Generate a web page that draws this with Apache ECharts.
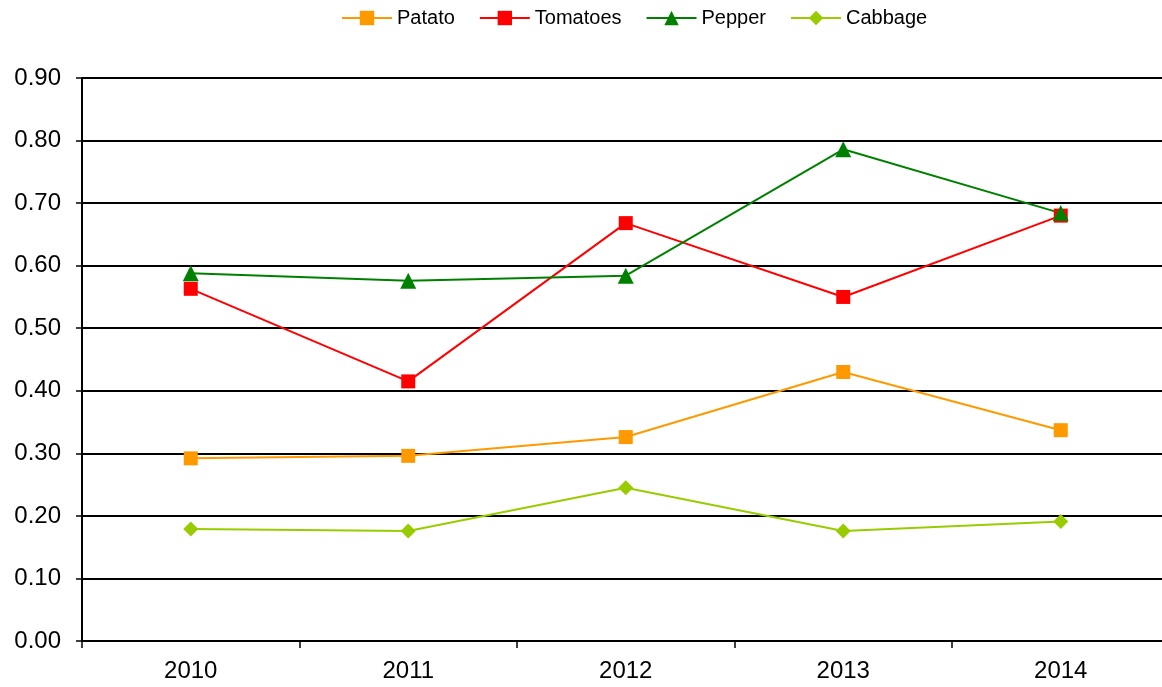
<!DOCTYPE html>
<html><head><meta charset="utf-8">
<script src="https://cdn.jsdelivr.net/npm/echarts@6/dist/echarts.min.js"></script>
<style>html,body{margin:0;padding:0;background:#fff}#c{width:1162px;height:687px}</style>
</head><body><div id="c"></div>
<script>
const categories = ['2010','2011','2012','2013','2014'];
const patato   = [0.292, 0.296, 0.326, 0.430, 0.337];
const tomatoes = [0.563, 0.415, 0.668, 0.550, 0.680];
const pepper   = [0.588, 0.576, 0.584, 0.786, 0.684];
const cabbage  = [0.179, 0.176, 0.245, 0.176, 0.191];
const yTicks = { min: 0, max: 0.9, interval: 0.1 };

const font = 'Liberation Sans, Arial, sans-serif';
const chart = echarts.init(document.getElementById('c'));
function s(name, data, color, symbol, size) {
  return { name, type: 'line', data, symbol, symbolSize: size, showSymbol: true,
    lineStyle: { color, width: 2 }, itemStyle: { color }, animation: false };
}
chart.setOption({
  animation: false,
  legend: { top: 3, left: 336, itemWidth: 50, itemHeight: 18, itemGap: 24,
    textStyle: { fontFamily: font, fontSize: 20, color: '#000' } },
  grid: { left: 82, width: 1087.5, top: 78, height: 563, containLabel: false, outerBoundsMode: 'none' },
  xAxis: { type: 'category', data: categories, boundaryGap: true,
    axisLine: { lineStyle: { color: '#000', width: 2 } },
    axisTick: { show: true, length: 7, lineStyle: { color: '#000', width: 1.5 } },
    axisLabel: { fontFamily: font, fontSize: 24, color: '#000', margin: 18 } },
  yAxis: { type: 'value', min: yTicks.min, max: yTicks.max, interval: yTicks.interval,
    axisLine: { show: true, lineStyle: { color: '#000', width: 2 } },
    axisTick: { show: true, length: 6, lineStyle: { color: '#000', width: 1.5 } },
    axisLabel: { fontFamily: font, fontSize: 24, color: '#000', margin: 21,
      formatter: v => v.toFixed(2) },
    splitLine: { lineStyle: { color: '#000', width: 2 } } },
  series: [
    s('Patato', patato, '#FF9900', 'rect', 14),
    s('Tomatoes', tomatoes, '#FF0000', 'rect', 14),
    s('Pepper', pepper, '#008000', 'triangle', 16),
    s('Cabbage', cabbage, '#99CC00', 'diamond', 15)
  ]
});
</script></body></html>
